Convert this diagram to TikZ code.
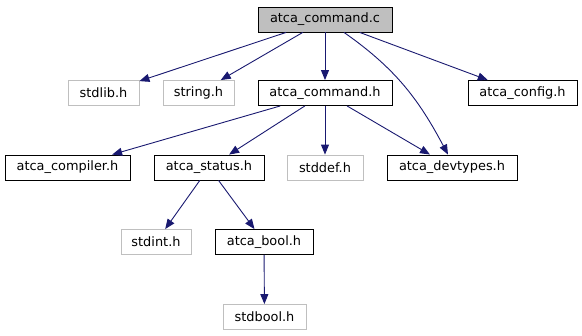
\documentclass[tikz,border=0pt]{standalone}
\usepackage{fontspec}
\setmainfont{DejaVu Sans}
\usetikzlibrary{arrows.meta}

\definecolor{edgeblue}{HTML}{191970}
\definecolor{boxgray}{HTML}{BFBFBF}

\begin{document}
\begin{tikzpicture}[x=1pt,y=-1pt,>={Triangle[length=10pt,width=8pt]},
  font=\fontsize{12.9}{15}\selectfont,
  hdr/.style={draw=black,line width=0.85pt,minimum height=25pt,inner sep=0pt},
  sys/.style={draw=boxgray,line width=0.85pt,minimum height=25pt,inner sep=0pt},
  cur/.style={hdr,fill=boxgray},
  dep/.style={->,draw=edgeblue,line width=0.9pt}]
\useasboundingbox (0,0) rectangle (582,336);
% top: the source file
\node[cur,minimum width=134pt] (cmdc) at (325,19.5) {atca\_command.c};
% first level
\node[sys,minimum width=71pt] (stdlib) at (103.5,93) {stdlib.h};
\node[sys,minimum width=71pt] (string) at (198.5,93) {string.h};
\node[hdr,minimum width=134pt] (cmdh) at (325,93) {atca\_command.h};
\node[hdr,minimum width=109pt] (config) at (522.5,93) {atca\_config.h};
% second level
\node[hdr,minimum width=125pt] (compiler) at (67.5,167.5) {atca\_compiler.h};
\node[hdr,minimum width=110pt] (status) at (209,167.5) {atca\_status.h};
\node[sys,minimum width=76pt] (stddef) at (325,167.5) {stddef.h};
\node[hdr,minimum width=130pt] (devtypes) at (452,167.5) {atca\_devtypes.h};
% third level
\node[sys,minimum width=70pt] (stdint) at (156,242) {stdint.h};
\node[hdr,minimum width=98pt] (bool) at (264,242) {atca\_bool.h};
\node[sys,minimum width=83pt] (stdbool) at (264.5,317) {stdbool.h};
% includes
\foreach \a/\b in {cmdc/stdlib,cmdc/string,cmdc/cmdh,cmdc/config,
  cmdh/compiler,cmdh/status,cmdh/stddef,cmdh/devtypes,
  status/stdint,status/bool,bool/stdbool}
  \draw[dep] (\a)--(\b);
\draw[dep] ([xshift=19pt]cmdc.south) to[out=-35,in=118] ([xshift=-4pt]devtypes.north);
\end{tikzpicture}
\end{document}
